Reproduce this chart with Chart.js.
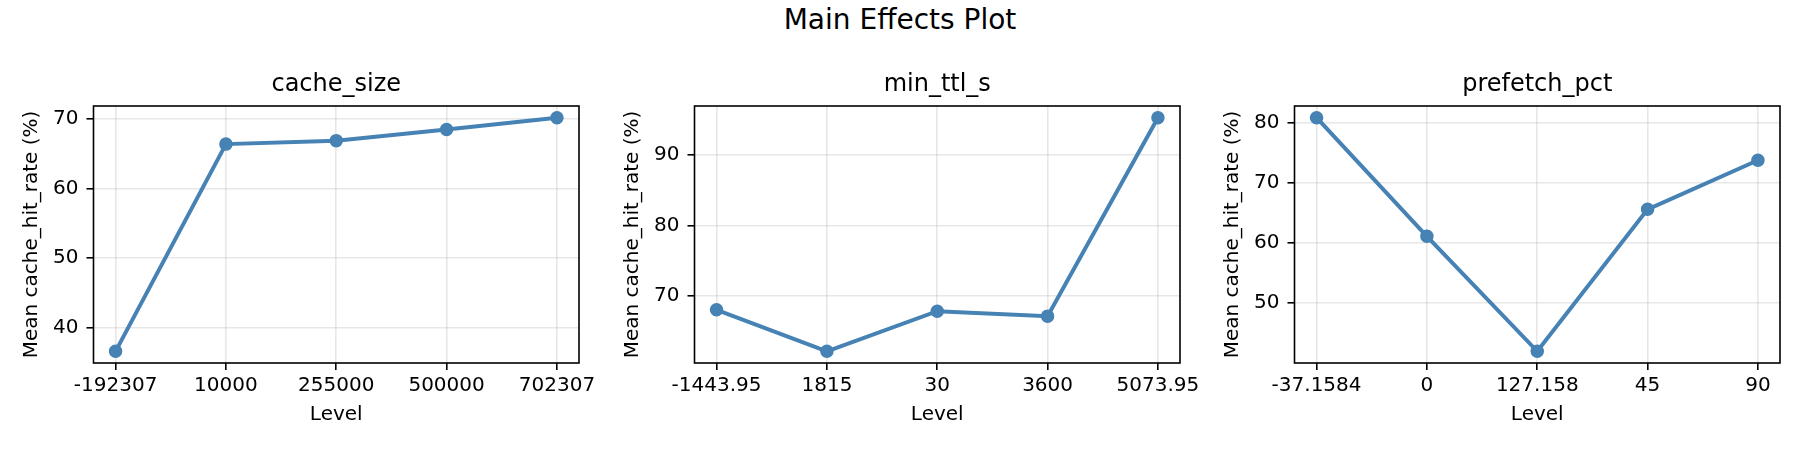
<!DOCTYPE html>
<html>
<head>
<meta charset="utf-8">
<script src="https://cdn.jsdelivr.net/npm/chart.js@4.4.1/dist/chart.umd.min.js"></script>
<style>
  html, body { margin: 0; padding: 0; background: #fff; overflow: hidden; }
  #pagina { position: relative; width: 1800px; height: 450px; }
  #suptitulo { position: absolute; left: 0; top: 3px; width: 1800px; text-align: center;
               font: 28px 'DejaVu Sans'; line-height: 34px; color: #000; }
  canvas { position: absolute; top: 0; }
</style>
</head>
<body>
<div id="pagina">
  <div id="suptitulo">Main Effects Plot</div>
  <canvas id="g0"></canvas>
  <canvas id="g1"></canvas>
  <canvas id="g2"></canvas>
</div>
<script>
// --- dados ---
const cacheSizeLevels = ['-192307', '10000', '255000', '500000', '702307'];
const cacheSizeMeans = [36.6, 66.4, 66.9, 68.5, 70.2];
const cacheSizeTicks = [40, 50, 60, 70];

const minTtlLevels = ['-1443.95', '1815', '30', '3600', '5073.95'];
const minTtlMeans = [68.0, 62.1, 67.8, 67.1, 95.3];
const minTtlTicks = [70, 80, 90];

const prefetchLevels = ['-37.1584', '0', '127.158', '45', '90'];
const prefetchMeans = [80.9, 61.1, 41.9, 65.6, 73.8];
const prefetchTicks = [50, 60, 70, 80];

const yLabel = 'Mean cache_hit_rate (%)';
const xLabel = 'Level';

const paineis = [
  { titulo: 'cache_size', niveis: cacheSizeLevels, medias: cacheSizeMeans, yTicks: cacheSizeTicks },
  { titulo: 'min_ttl_s', niveis: minTtlLevels, medias: minTtlMeans, yTicks: minTtlTicks },
  { titulo: 'prefetch_pct', niveis: prefetchLevels, medias: prefetchMeans, yTicks: prefetchTicks }
];

// posicao dos eixos na pagina (px)
const eixoEsq = [93.5, 694, 1294];
const eixoDir = [579, 1180, 1780];
const larguraY = 93.5;
const folgaDir = 40;

const corLinha = '#4682b4';
const corGrade = 'rgba(176,176,176,0.3)';

Chart.defaults.font.family = "'DejaVu Sans'";
Chart.defaults.color = '#000';

// moldura preta em volta da area do grafico
const molduraPlugin = {
  id: 'moldura',
  afterDatasetsDraw(chart) {
    const { ctx, chartArea: a } = chart;
    ctx.save();
    ctx.strokeStyle = '#000';
    ctx.lineWidth = 1.6;
    ctx.strokeRect(a.left, a.top, a.right - a.left, a.bottom - a.top);
    ctx.restore();
  }
};

paineis.forEach((p, i) => {
  const canvas = document.getElementById('g' + i);
  const largura = eixoDir[i] - eixoEsq[i] + larguraY + folgaDir;
  canvas.width = largura;
  canvas.height = 450;
  canvas.style.left = (eixoEsq[i] - larguraY) + 'px';
  canvas.style.width = largura + 'px';
  canvas.style.height = '450px';

  const lo = Math.min(...p.medias);
  const hi = Math.max(...p.medias);
  const margem = (hi - lo) * 0.05;
  const n = p.niveis.length;

  new Chart(canvas, {
    type: 'line',
    data: {
      datasets: [{
        data: p.medias.map((v, k) => ({ x: k, y: v })),
        borderColor: corLinha,
        backgroundColor: corLinha,
        borderWidth: 4,
        tension: 0,
        pointRadius: 6,
        pointBorderWidth: 1.5,
        pointBackgroundColor: corLinha,
        pointBorderColor: corLinha
      }]
    },
    options: {
      responsive: false,
      animation: false,
      devicePixelRatio: 1,
      layout: { padding: { left: 0, right: folgaDir, top: 0, bottom: 0 } },
      plugins: {
        legend: { display: false },
        tooltip: { enabled: false },
        title: {
          display: true,
          text: p.titulo,
          fullSize: false,
          font: { size: 24, weight: 'normal' },
          padding: { top: 70.6, bottom: 6.6 }
        }
      },
      scales: {
        x: {
          type: 'linear',
          min: -0.2,
          max: n - 1 + 0.2,
          afterBuildTicks: s => { s.ticks = p.niveis.map((_, k) => ({ value: k })); },
          afterFit: s => { s.height = 87; s.paddingLeft = 0; s.paddingRight = 0; },
          ticks: {
            autoSkip: false,
            maxRotation: 0,
            padding: 4,
            font: { size: 20 },
            callback: v => p.niveis[v]
          },
          grid: { color: corGrade, lineWidth: 1.6, tickColor: '#000', tickWidth: 1.6, tickLength: 7 },
          border: { display: false },
          title: { display: true, text: xLabel, font: { size: 20 }, padding: { top: 0, bottom: 23 } }
        },
        y: {
          min: lo - margem,
          max: hi + margem,
          afterBuildTicks: s => { s.ticks = p.yTicks.map(v => ({ value: v })); },
          afterFit: s => { s.width = larguraY; s.paddingTop = 0; s.paddingBottom = 0; },
          ticks: { padding: 8, font: { size: 20 } },
          grid: { color: corGrade, lineWidth: 1.6, tickColor: '#000', tickWidth: 1.6, tickLength: 7 },
          border: { display: false },
          title: { display: true, text: yLabel, font: { size: 20 }, padding: { top: 19.5, bottom: 0 } }
        }
      }
    },
    plugins: [molduraPlugin]
  });
});
</script>
</body>
</html>
